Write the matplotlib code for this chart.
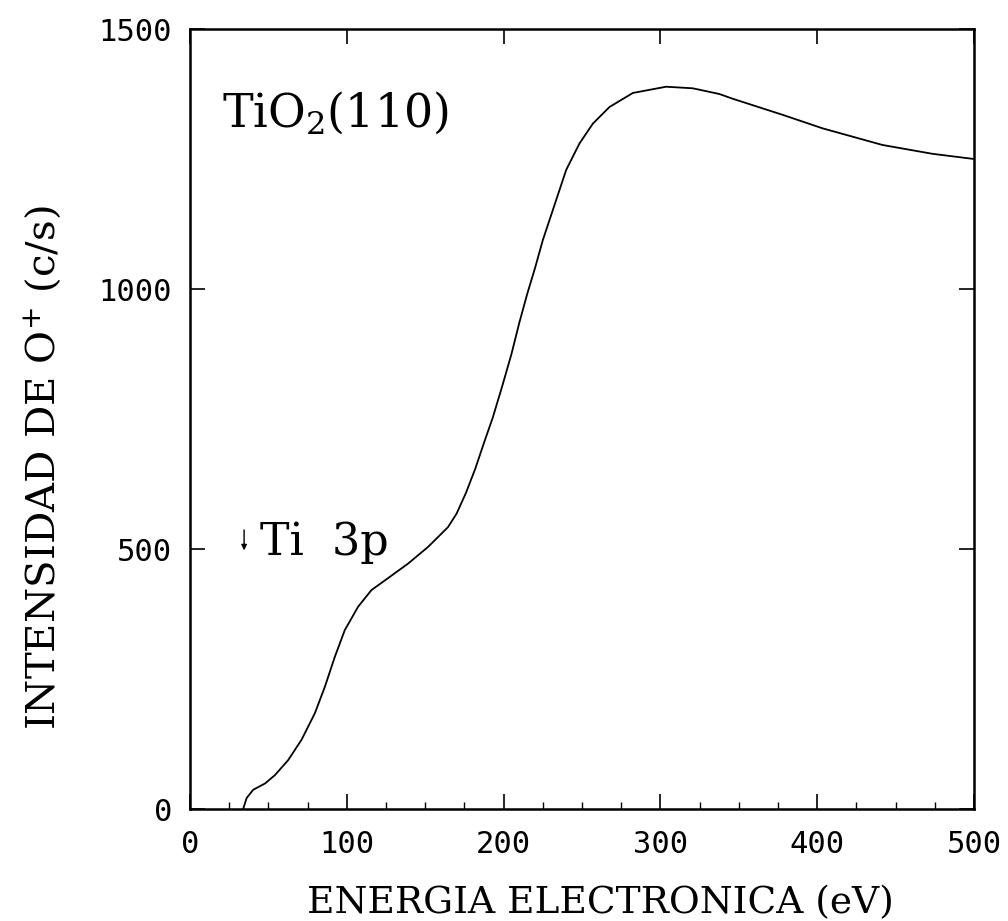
import matplotlib
matplotlib.use("Agg")
import matplotlib.pyplot as plt
from matplotlib.ticker import MultipleLocator

# O+ ESD yield vs electron energy
energy = [33.9, 36.1, 40.3, 47.8, 54.1, 62.6, 71.1, 79.6, 86.0, 92.4, 98.7, 107.2,
          115.7, 126.3, 139.1, 151.8, 164.5, 170.0, 176.0, 182.0, 187.0, 193.0,
          199.0, 205.0, 210.0, 215.0, 220.0, 225.0, 231.4, 239.9, 248.4, 256.9,
          267.5, 282.4, 303.6, 320.6, 337.6, 346.0, 377.9, 403.4, 441.6, 473.5, 500.0]
intensity = [0, 21, 37, 49, 65, 94, 133, 184, 235, 293, 344, 389,
             421, 444, 472, 504, 542, 568, 608, 655, 700, 752,
             812, 875, 935, 990, 1040, 1094, 1152, 1229, 1280, 1318,
             1350, 1377, 1389, 1386, 1375, 1366, 1335, 1309, 1277, 1260, 1250]

x_ticks = [0, 100, 200, 300, 400, 500]
y_ticks = [0, 500, 1000, 1500]

serif = "DejaVu Serif"
mono = "DejaVu Sans Mono"

fig = plt.figure(figsize=(10.08, 9.21), dpi=100)
ax = fig.add_axes([0.1885, 0.1216, 0.7778, 0.8469])

ax.plot(energy, intensity, color="black", lw=1.3)

ax.set_xlim(0, 500)
ax.set_ylim(0, 1500)
ax.set_xticks(x_ticks)
ax.set_yticks(y_ticks)
ax.xaxis.set_minor_locator(MultipleLocator(25))

ax.tick_params(which="major", direction="in", length=11, width=1.2,
               top=True, right=True, labelsize=22)
ax.tick_params(which="minor", direction="in", length=5, width=1.0, top=False)
ax.tick_params(axis="x", which="major", pad=15)
ax.tick_params(axis="y", which="major", pad=13)
for lab in ax.get_xticklabels() + ax.get_yticklabels():
    lab.set_family(mono)

for sp in ax.spines.values():
    sp.set_linewidth(1.8)

ax.set_xlabel("ENERGIA ELECTRONICA (eV)", family=serif, fontsize=27)
ax.set_ylabel("INTENSIDAD DE O$^{+}$ (c/s)", family=serif, fontsize=29,
              math_fontfamily="dejavuserif")
ax.xaxis.set_label_coords(0.524, -0.098)
ax.yaxis.set_label_coords(-0.162, 0.438)

ax.text(20.4, 1313, "TiO$_2$(110)", family=serif, fontsize=33, va="baseline",
        ha="left", math_fontfamily="dejavuserif")
ax.text(44.6, 488, "Ti  3p", family=serif, fontsize=32, va="baseline", ha="left")
ax.annotate("", xy=(34.5, 492), xytext=(34.5, 542),
            arrowprops=dict(arrowstyle="-|>", color="black", lw=1.0,
                            mutation_scale=8))

fig.savefig("out.png", dpi=100)
